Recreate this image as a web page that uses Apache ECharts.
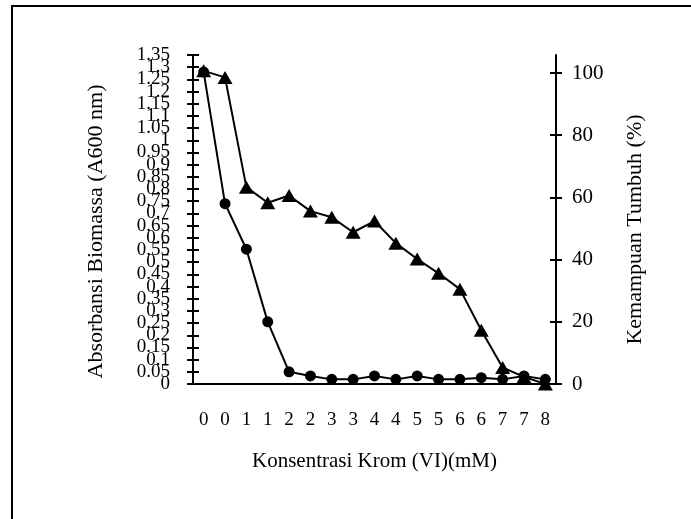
<!DOCTYPE html>
<html>
<head>
<meta charset="utf-8">
<script src="https://cdn.jsdelivr.net/npm/echarts@6/dist/echarts.min.js"></script>
<style>
  html, body { margin: 0; padding: 0; background: #fff; }
  #chart { width: 691px; height: 519px; }
</style>
</head>
<body>
<div id="chart"></div>
<script>
// konsentrasi krom (VI), labels as printed on the axis
const categories = ['0', '0', '1', '1', '2', '2', '3', '3', '4', '4', '5', '5', '6', '6', '7', '7', '8']
// absorbansi biomassa A600 (left axis, circles)
const absorbance = [1.28, 0.74, 0.553, 0.255, 0.05, 0.033, 0.019, 0.019, 0.033, 0.019, 0.033, 0.019, 0.019, 0.026, 0.019, 0.033, 0.019]
// kemampuan tumbuh % (right axis, triangles)
const growth = [100.7, 98.6, 63.3, 58.3, 60.6, 55.6, 53.6, 48.8, 52.4, 45.3, 40.2, 35.6, 30.5, 17.3, 5.3, 2.3, 0]
// left tick labels, split in two sets so echarts doesn't drop the overlapping ones
const leftTicksA = [0, 0.1, 0.2, 0.3, 0.4, 0.5, 0.6, 0.7, 0.8, 0.9, 1, 1.1, 1.2, 1.3]
const leftTicksB = [0.05, 0.15, 0.25, 0.35, 0.45, 0.55, 0.65, 0.75, 0.85, 0.95, 1.05, 1.15, 1.25, 1.35]
const rightTicks = [0, 20, 40, 60, 80, 100]

const font = "'Liberation Serif', 'Times New Roman', serif"
const black = '#000'

const chart = echarts.init(document.getElementById('chart'))

const leftBase = {
  type: 'value',
  position: 'left',
  min: 0,
  max: 1.35,
  interval: 0.05,
  splitLine: { show: false }
}
const rightBase = {
  type: 'value',
  position: 'right',
  min: 0,
  max: 105.8,
  splitLine: { show: false }
}
const leftLabel = {
  margin: 23, showMinLabel: true, showMaxLabel: true, hideOverlap: false,
  color: black, fontFamily: font, fontSize: 19
}

const option = {
  backgroundColor: '#fff',
  animation: false,
  graphic: [
    {
      type: 'rect',
      shape: { x: 12, y: 6, width: 720, height: 560 },
      style: { fill: 'none', stroke: black, lineWidth: 2 },
      silent: true
    }
  ],
  grid: { left: 193, right: 135, top: 55, bottom: 135 },
  xAxis: [
    {
      type: 'category',
      position: 'bottom',
      data: categories,
      name: 'Konsentrasi Krom (VI)(mM)',
      nameLocation: 'middle',
      nameGap: 67,
      nameTextStyle: { color: black, fontFamily: font, fontSize: 21 },
      axisLine: { lineStyle: { color: black, width: 2 } },
      axisTick: { interval: 0, length: 6, lineStyle: { color: black, width: 2 } },
      axisLabel: { interval: 0, margin: 27, color: black, fontFamily: font, fontSize: 19 }
    },
    {
      // inner half of the crossing ticks
      type: 'category',
      position: 'bottom',
      data: categories,
      axisLine: { show: false },
      axisTick: { inside: true, interval: 0, length: 6, lineStyle: { color: black, width: 2 } },
      axisLabel: { show: false }
    }
  ],
  yAxis: [
    {
      ...leftBase,
      name: 'Absorbansi Biomassa (A600 nm)',
      nameLocation: 'middle',
      nameGap: 86,
      nameTextStyle: { color: black, fontFamily: font, fontSize: 22, padding: [0, 24, 0, 0] },
      axisLine: { show: true, lineStyle: { color: black, width: 2 } },
      axisTick: { show: true, length: 6, lineStyle: { color: black, width: 2 } },
      axisLabel: { ...leftLabel, customValues: leftTicksA }
    },
    {
      ...rightBase,
      name: 'Kemampuan Tumbuh (%)',
      nameLocation: 'middle',
      nameGap: 68,
      nameTextStyle: { color: black, fontFamily: font, fontSize: 22, padding: [0, 20, 0, 0] },
      axisLine: { show: true, lineStyle: { color: black, width: 2 } },
      axisTick: { show: true, length: 6, customValues: rightTicks, lineStyle: { color: black, width: 2 } },
      axisLabel: { margin: 16, customValues: rightTicks, color: black, fontFamily: font, fontSize: 21 }
    },
    {
      ...leftBase,
      axisLine: { show: false },
      axisTick: { show: true, inside: true, length: 6, lineStyle: { color: black, width: 2 } },
      axisLabel: { ...leftLabel, customValues: leftTicksB }
    },
    {
      ...rightBase,
      axisLine: { show: false },
      axisTick: { show: true, inside: true, length: 6, customValues: rightTicks, lineStyle: { color: black, width: 2 } },
      axisLabel: { show: false }
    }
  ],
  series: [
    {
      name: 'Kemampuan Tumbuh',
      type: 'line',
      yAxisIndex: 1,
      data: growth,
      symbol: 'triangle',
      symbolSize: [15, 13],
      lineStyle: { color: black, width: 2 },
      itemStyle: { color: black }
    },
    {
      name: 'Absorbansi',
      type: 'line',
      yAxisIndex: 0,
      data: absorbance,
      symbol: 'circle',
      symbolSize: 11,
      lineStyle: { color: black, width: 2 },
      itemStyle: { color: black }
    }
  ]
}

chart.setOption(option)
</script>
</body>
</html>
